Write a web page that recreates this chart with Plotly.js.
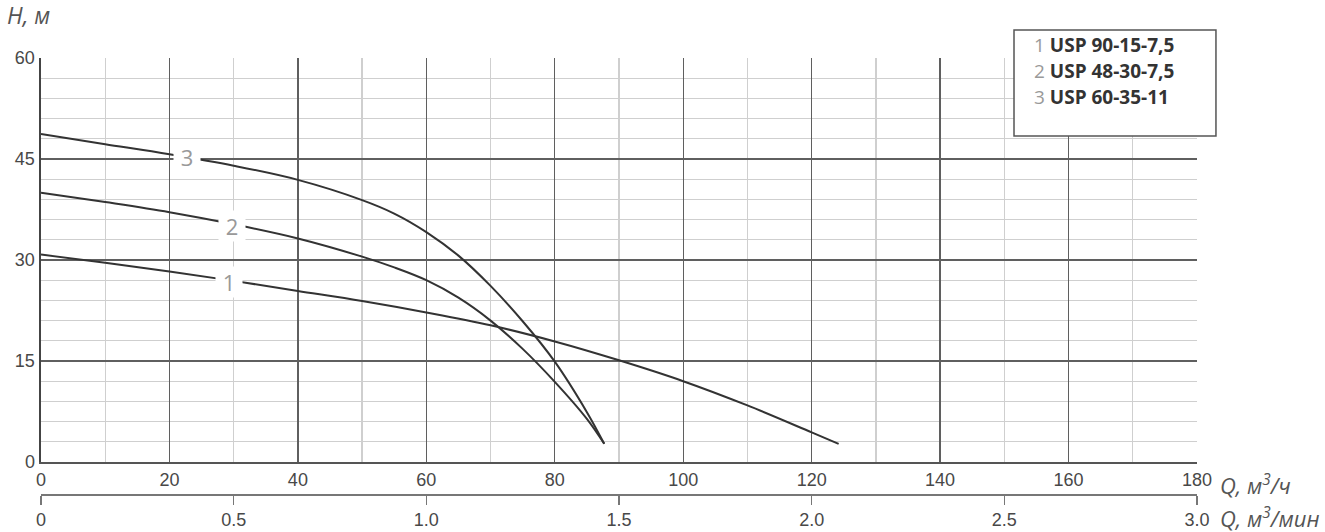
<!DOCTYPE html>
<html>
<head>
<meta charset="utf-8">
<script src="https://cdn.plot.ly/plotly-3.0.1.min.js"></script>
<style>html,body{margin:0;padding:0;background:#fff;}#chart{width:1325px;height:532px;}</style>
</head>
<body>
<div id="chart"></div>
<script>
// Series 1: USP 90-15-7,5
const q1 = [0, 10, 20, 30, 40, 50, 60, 70, 80, 90, 100, 110, 120, 124.2];
const h1 = [30.8, 29.6, 28.3, 26.9, 25.4, 23.9, 22.2, 20.3, 17.9, 15.1, 12.0, 8.4, 4.4, 2.7];
// Series 2: USP 48-30-7,5
const q2 = [0, 10, 20, 30, 40, 50, 55, 60, 65, 70, 75, 80, 85, 87.7];
const h2 = [40.0, 38.6, 37.1, 35.3, 33.2, 30.5, 28.9, 27.0, 24.4, 21.0, 16.8, 11.9, 6.4, 2.7];
// Series 3: USP 60-35-11
const q3 = [0, 10, 20, 30, 40, 50, 55, 60, 65, 70, 75, 80, 85, 87.7];
const h3 = [48.7, 47.2, 45.7, 44.0, 41.9, 38.9, 36.9, 34.15, 30.65, 26.15, 20.9, 14.9, 7.4, 2.7];

const seriesNums = ['1', '2', '3'];
const seriesNames = ['USP 90-15-7,5', 'USP 48-30-7,5', 'USP 60-35-11'];
// curve label positions (Q, H)
const labelQ = [29.3, 29.7, 22.7];
const labelH = [26.7, 35.0, 45.3];

const xTickVals = [0, 20, 40, 60, 80, 100, 120, 140, 160, 180];
const yTickVals = [0, 15, 30, 45, 60];
const x2TickVals = [0, 0.5, 1.0, 1.5, 2.0, 2.5, 3.0];
const x2TickText = ['0', '0.5', '1.0', '1.5', '2.0', '2.5', '3.0'];

const qs = [q1, q2, q3];
const hs = [h1, h2, h3];

const traces = qs.map((q, i) => ({
  x: q, y: hs[i], type: 'scatter', mode: 'lines',
  line: {color: '#333', width: 2, shape: 'spline', smoothing: 1},
  showlegend: false, hoverinfo: 'skip', name: seriesNames[i]
}));

const tickFont = {family: 'Liberation Sans, Arial, sans-serif', size: 18, color: '#484848'};
const titleFont = {family: 'Open Sans, sans-serif', size: 22, color: '#555'};

const annotations = [];
seriesNums.forEach((n, i) => {
  annotations.push({
    x: labelQ[i], y: labelH[i], xref: 'x', yref: 'y', text: n, showarrow: false,
    font: {family: 'Open Sans, sans-serif', size: 22, color: '#999'},
    bgcolor: '#fff', borderpad: 0, width: 26
  });
});
const legendY = [1.0288, 0.9712, 0.9137];
seriesNums.forEach((n, i) => {
  annotations.push({
    xref: 'paper', yref: 'paper', x: 0.857, y: legendY[i], xanchor: 'left', yanchor: 'middle',
    text: '<span style="color:#999">' + n + '</span> <b>' + seriesNames[i] + '</b>',
    showarrow: false, font: {family: 'Open Sans, sans-serif', size: 19, color: '#333'}
  });
});
annotations.push({xref: 'paper', yref: 'paper', x: 1.0185, y: 0.057, xanchor: 'left', yanchor: 'middle',
  text: '<i>Q, м<sup>3</sup>/ч</i>', showarrow: false, font: titleFont});
annotations.push({xref: 'paper', yref: 'paper', x: 1.0185, y: -0.017, xanchor: 'left', yanchor: 'middle',
  text: '<i>Q, м<sup>3</sup>/мин</i>', showarrow: false, font: titleFont});
annotations.push({xref: 'paper', yref: 'paper', x: -0.031, y: 1.095, xanchor: 'left', yanchor: 'middle',
  text: '<i>H, м</i>', showarrow: false, font: {family: 'Open Sans, sans-serif', size: 23, color: '#555'}});

const layout = {
  width: 1325, height: 532,
  margin: {l: 41, r: 128, t: 58, b: 22, pad: 0},
  paper_bgcolor: '#fff', plot_bgcolor: 'rgba(0,0,0,0)',
  showlegend: false,
  xaxis: {
    range: [0, 180], tickvals: xTickVals, showgrid: true, gridcolor: '#5f5f5f', gridwidth: 1.4,
    minor: {dtick: 10, tick0: 0, showgrid: true, gridcolor: '#cfcfcf', gridwidth: 1.3},
    zeroline: false, showline: true, linecolor: '#555', linewidth: 2,
    ticks: '', tickfont: tickFont, anchor: 'y', fixedrange: true
  },
  yaxis: {
    range: [0, 60], tickvals: yTickVals, domain: [0.1062, 1], showgrid: true, gridcolor: '#5f5f5f', gridwidth: 1.4,
    minor: {dtick: 3, tick0: 0, showgrid: true, gridcolor: '#cfcfcf', gridwidth: 1.3},
    zeroline: false, showline: true, linecolor: '#444', linewidth: 2.5,
    ticks: '', tickfont: tickFont, fixedrange: true
  },
  xaxis2: {
    range: [0, 3], tickvals: x2TickVals, ticktext: x2TickText, anchor: 'y2', side: 'bottom',
    showgrid: false, zeroline: false,
    showline: true, linecolor: '#777', linewidth: 1.6, ticks: 'outside', ticklen: 9,
    tickcolor: '#777', tickwidth: 1.6, tickfont: tickFont, fixedrange: true
  },
  yaxis2: {
    domain: [0.0354, 0.06], range: [0, 1], visible: false, fixedrange: true
  },
  shapes: [{
    type: 'rect', xref: 'paper', yref: 'paper', x0: 0.8417, x1: 1.0164, y0: 0.8274, y1: 1.0619,
    line: {color: '#555', width: 1.5}, fillcolor: '#fff', layer: 'above'
  }],
  annotations: annotations
};

// empty helper trace so the secondary flow axis (m3/min) subplot is drawn
traces.push({x: [0, 3], y: [null, null], xaxis: 'x2', yaxis: 'y2', type: 'scatter', mode: 'lines', showlegend: false, hoverinfo: 'skip'});

Plotly.newPlot('chart', traces, layout, {displayModeBar: false, staticPlot: true});
</script>
</body>
</html>
